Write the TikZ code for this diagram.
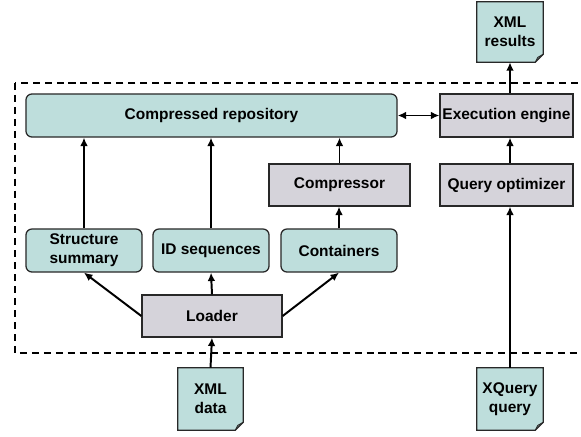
\documentclass[tikz,border=0pt]{standalone}
\usepackage{fontspec}
\setmainfont{Liberation Sans}
\usetikzlibrary{arrows.meta,backgrounds,calc}
\definecolor{storefill}{RGB}{190,222,220}
\definecolor{procfill}{RGB}{213,211,218}
\definecolor{edgecol}{RGB}{40,40,40}

\begin{document}
\begin{tikzpicture}[x=0.025cm, y=-0.025cm,
  every node/.style={font=\fontsize{11}{13.5}\selectfont\bfseries, align=center, inner sep=0pt},
  store/.style={draw=edgecol, line width=0.9pt, fill=storefill, rounded corners=0.15cm, minimum height=1.075cm},
  proc/.style={draw=edgecol, line width=0.9pt, fill=procfill, minimum height=1.05cm},
  docnode/.style={minimum width=1.65cm, minimum height=1.55cm},
  link/.style={line width=1.4pt, -{Latex[length=6pt,width=5.5pt]}},
  dlink/.style={line width=1.4pt, {Latex[length=6pt,width=5.5pt]}-{Latex[length=6pt,width=5.5pt]}}
  ]
  \useasboundingbox (0,0) rectangle (581,436);

  % system boundary
  \draw[line width=1.3pt, dash pattern=on 5pt off 3.5pt] (15,83) rectangle (600,353);

  % storage side
  \node[store, minimum width=9.275cm] (repo) at (211.5,115.5) {Compressed repository};
  \node[proc, minimum width=3.525cm] (compressor) at (339.5,185) {Compressor};
  \node[store, minimum width=2.9cm] (structure) at (84,250.5) {Structure\\summary};
  \node[store, minimum width=2.9cm] (idseq) at (211,250.5) {ID sequences};
  \node[store, minimum width=2.9cm] (containers) at (339,250.5) {Containers};
  \node[proc, minimum width=3.5cm] (loader) at (212,316) {Loader};

  % query side
  \node[proc, minimum width=3.325cm, minimum height=1.075cm] (engine) at (506.5,115.5) {Execution engine};
  \node[proc, minimum width=3.325cm] (optimizer) at (506.5,185) {Query optimizer};

  % documents
  \node[docnode, minimum height=1.5cm] (xmlres) at (510,32) {XML\\results};
  \node[docnode, minimum width=1.625cm] (xmldata) at (210.5,399) {XML\\data};
  \node[docnode] (xquery) at (510,399) {XQuery\\query};
  \begin{scope}[on background layer]
    \foreach \d in {xmlres,xmldata,xquery}{
      \draw[draw=edgecol, line width=0.9pt, fill=storefill] (\d.north west) -- (\d.north east)
        -- ([yshift=0.2cm]\d.south east) -- ([xshift=-0.2cm]\d.south east) -- (\d.south west) -- cycle;
    }
  \end{scope}
  \foreach \d in {xmlres,xmldata,xquery}{
    \draw[edgecol, line width=0.7pt] ([xshift=-0.2cm]\d.south east)
      -- ([xshift=-0.14cm,yshift=0.12cm]\d.south east) -- ([yshift=0.2cm]\d.south east);
  }

  % connectors
  \draw[link] (structure.north) -- (structure.north |- repo.south);
  \draw[link] (idseq.north) -- (idseq.north |- repo.south);
  \draw[link] (containers.north) -- (containers.north |- compressor.south);
  \draw[link] (compressor.north) -- (compressor.north |- repo.south);
  \draw[link] (loader.west) -- (structure.south);
  \draw[link] (loader.north) -- (idseq.south);
  \draw[link] (loader.east) -- (containers.south);
  \draw[link] (xmldata.north) -- (loader.south);
  \draw[dlink] (repo.east) -- (engine.west);
  \draw[link] (xquery.north) -- (xquery.north |- optimizer.south);
  \draw[link] (xquery.north |- optimizer.north) -- (xquery.north |- engine.south);
  \draw[link] (xquery.north |- engine.north) -- (xmlres.south);
\end{tikzpicture}
\end{document}
